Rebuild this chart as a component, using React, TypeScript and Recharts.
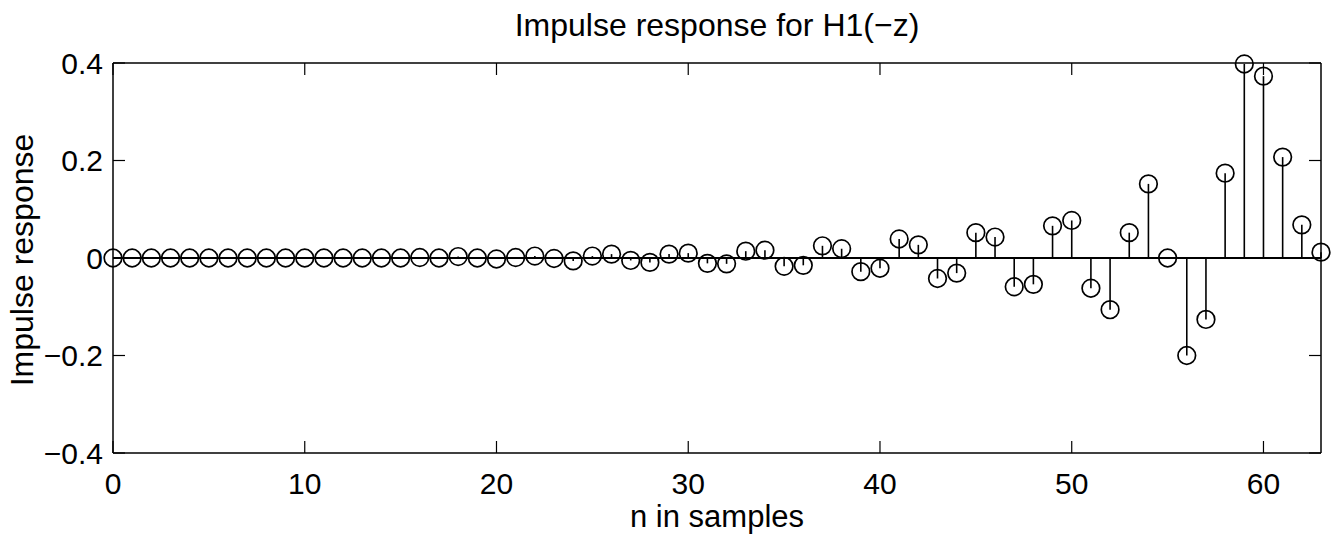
import React from 'react';
import { ComposedChart, Scatter, XAxis, YAxis, ReferenceLine, Label } from 'recharts';

const samples = [
  0, 1, 2, 3, 4, 5, 6, 7, 8, 9, 10, 11, 12, 13, 14, 15,
  16, 17, 18, 19, 20, 21, 22, 23, 24, 25, 26, 27, 28, 29, 30, 31,
  32, 33, 34, 35, 36, 37, 38, 39, 40, 41, 42, 43, 44, 45, 46, 47,
  48, 49, 50, 51, 52, 53, 54, 55, 56, 57, 58, 59, 60, 61, 62, 63,
];

const response = [
  0, 0, 0, 0, 0, 0, 0, 0, 0, 0, 0, 0, 0, 0, 0, 0,
  0.001, 0, 0.003, 0, -0.002, 0.001, 0.004, -0.001, -0.006, 0.004, 0.008, -0.005, -0.009, 0.008, 0.01, -0.011,
  -0.012, 0.014, 0.016, -0.017, -0.015, 0.025, 0.019, -0.028, -0.021, 0.039, 0.027, -0.042, -0.031, 0.052, 0.043, -0.059,
  -0.054, 0.066, 0.077, -0.062, -0.106, 0.052, 0.152, 0.0, -0.2, -0.126, 0.174, 0.398, 0.373, 0.207, 0.068, 0.012,
];

const xTicks = [0, 10, 20, 30, 40, 50, 60];
const yTicks = [-0.4, -0.2, 0, 0.2, 0.4];

const titleText = 'Impulse response for H1(\u2212z)';
const xLabelText = 'n in samples';
const yLabelText = 'Impulse response';

const data = samples.map((n, i) => ({ n, h: response[i] }));

const FONT = '"Liberation Sans", Arial, Helvetica, sans-serif';

const fmtY = (v: number) => {
  if (Math.abs(v) < 1e-9) return '0';
  const s = Math.abs(v).toFixed(1);
  return (v < 0 ? '\u2212' : '') + s;
};

const Circle = (props: any) => {
  const { cx, cy } = props;
  if (cx == null || cy == null) return null;
  return <circle cx={cx} cy={cy} r={8.8} fill="none" stroke="#000" strokeWidth={1.7} />;
};

const Nothing = () => <g />;

export default function App() {
  return (
    <div style={{ position: 'absolute', left: 0, top: 0, background: '#fff' }}>
      <ComposedChart
        width={1339}
        height={538}
        data={data}
        margin={{ top: 62, right: 17, left: 0, bottom: 0 }}
      >
        <XAxis
          dataKey="n"
          type="number"
          domain={[0, 63]}
          ticks={xTicks}
          height={85}
          tickSize={-12}
          tickMargin={32}
          axisLine={{ stroke: '#000', strokeWidth: 1.5 }}
          tickLine={{ stroke: '#000', strokeWidth: 1.2 }}
          tick={{ fill: '#000', fontSize: 30, fontFamily: FONT }}
          interval={0}
        >
          <Label
            content={(p: any) => {
              const vb = p.viewBox || {};
              return (
                <text
                  x={vb.x + vb.width / 2}
                  y={527}
                  textAnchor="middle"
                  fontSize={31}
                  fontFamily={FONT}
                  fill="#000"
                >
                  {xLabelText}
                </text>
              );
            }}
          />
        </XAxis>
        <XAxis
          xAxisId="top"
          orientation="top"
          type="number"
          dataKey="n"
          domain={[0, 63]}
          ticks={xTicks}
          height={1}
          tickSize={-12}
          tickFormatter={() => ''}
          axisLine={{ stroke: '#000', strokeWidth: 1.5 }}
          tickLine={{ stroke: '#000', strokeWidth: 1.2 }}
          interval={0}
        >
          <Label
            content={(p: any) => {
              const vb = p.viewBox || {};
              return (
                <text
                  x={vb.x + vb.width / 2}
                  y={36}
                  textAnchor="middle"
                  fontSize={32}
                  fontFamily={FONT}
                  fill="#000"
                >
                  {titleText}
                </text>
              );
            }}
          />
        </XAxis>
        <YAxis
          type="number"
          domain={[-0.4, 0.4]}
          ticks={yTicks}
          width={113}
          tickSize={-12}
          tickMargin={22}
          tickFormatter={fmtY}
          axisLine={{ stroke: '#000', strokeWidth: 1.5 }}
          tickLine={{ stroke: '#000', strokeWidth: 1.2 }}
          tick={{ fill: '#000', fontSize: 30, fontFamily: FONT }}
          interval={0}
        >
          <Label
            content={(p: any) => {
              const vb = p.viewBox || {};
              const cy = vb.y + vb.height / 2 + 2;
              return (
                <text
                  x={33}
                  y={cy}
                  transform={`rotate(-90, 33, ${cy})`}
                  textAnchor="middle"
                  fontSize={32}
                  fontFamily={FONT}
                  fill="#000"
                >
                  {yLabelText}
                </text>
              );
            }}
          />
        </YAxis>
        <YAxis
          yAxisId="right"
          orientation="right"
          type="number"
          domain={[-0.4, 0.4]}
          ticks={yTicks}
          width={1}
          tickSize={-12}
          tickFormatter={() => ''}
          axisLine={{ stroke: '#000', strokeWidth: 1.5 }}
          tickLine={{ stroke: '#000', strokeWidth: 1.2 }}
          interval={0}
        />
        <ReferenceLine
          segment={[
            { x: samples[0], y: 0 },
            { x: samples[samples.length - 1], y: 0 },
          ]}
          stroke="#000"
          strokeWidth={2}
          ifOverflow="visible"
        />
        {data.map((d) => (
          <ReferenceLine
            key={'stem' + d.n}
            segment={[
              { x: d.n, y: 0 },
              { x: d.n, y: d.h },
            ]}
            stroke="#000"
            strokeWidth={1.6}
            ifOverflow="visible"
          />
        ))}
        <Scatter
          xAxisId="top"
          yAxisId="right"
          dataKey="h"
          shape={<Nothing />}
          isAnimationActive={false}
        />
        <Scatter dataKey="h" shape={<Circle />} isAnimationActive={false} />
      </ComposedChart>
    </div>
  );
}
